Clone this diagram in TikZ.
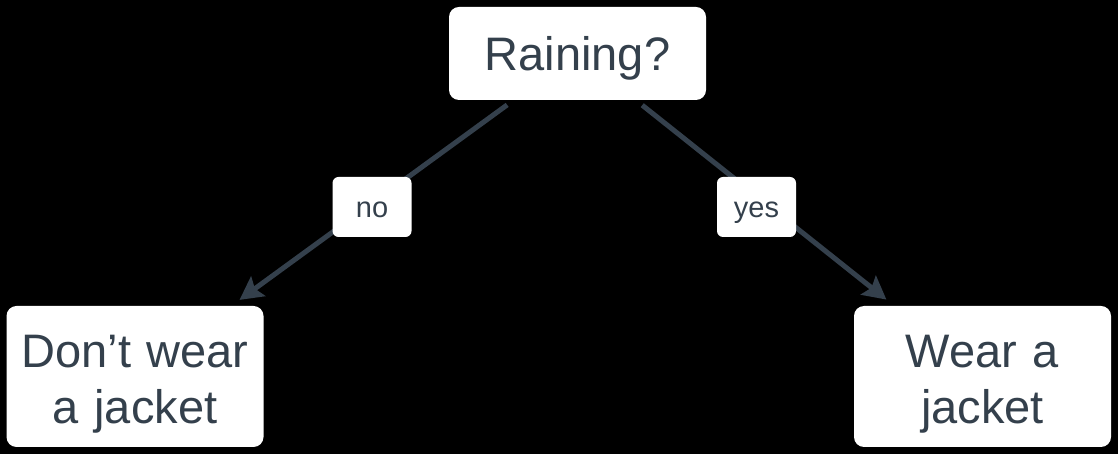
\documentclass[tikz,border=0pt]{standalone}
\usepackage{fontspec}
\setmainfont{Liberation Sans}
\usetikzlibrary{arrows.meta}
\definecolor{slate}{HTML}{34404C}

\begin{document}
\begin{tikzpicture}[x=1pt,y=1pt,
        box/.style={fill=white,rounded corners=10pt,minimum width=257pt,text width=248pt,inner sep=4pt,
            align=center,text=slate,font=\fontsize{47}{56}\selectfont},
        lbl/.style={fill=white,rounded corners=6pt,minimum width=79pt,minimum height=60pt,
            text height=21pt,text depth=0pt,text=slate,font=\fontsize{29}{34}\selectfont},
        edge/.style={line width=5pt,draw=slate,-{Stealth[length=23pt,width=24pt,inset=4pt]},
            shorten <=8pt,shorten >=10pt}]
        \fill[black](0,0)rectangle(1118,454);
        \useasboundingbox(0,0)rectangle(1118,454);

        \node[box,minimum height=93pt,text depth=0pt](rain)at(577.5,400.5){Raining?};
        \node[box,minimum height=141pt,text height=48pt](dontwear)at(135,77.5){Don’t wear\\a jacket};
        \node[box,minimum height=141pt,text height=48pt](wear)at(982.5,77.5){Wear a\\jacket};

        \draw[edge](rain)--(dontwear);
        \draw[edge](rain)--(wear);

        \node[lbl](nolbl)at(372,247){no};
        \node[lbl](yeslbl)at(756.5,247){yes};
    \end{tikzpicture}
\end{document}
